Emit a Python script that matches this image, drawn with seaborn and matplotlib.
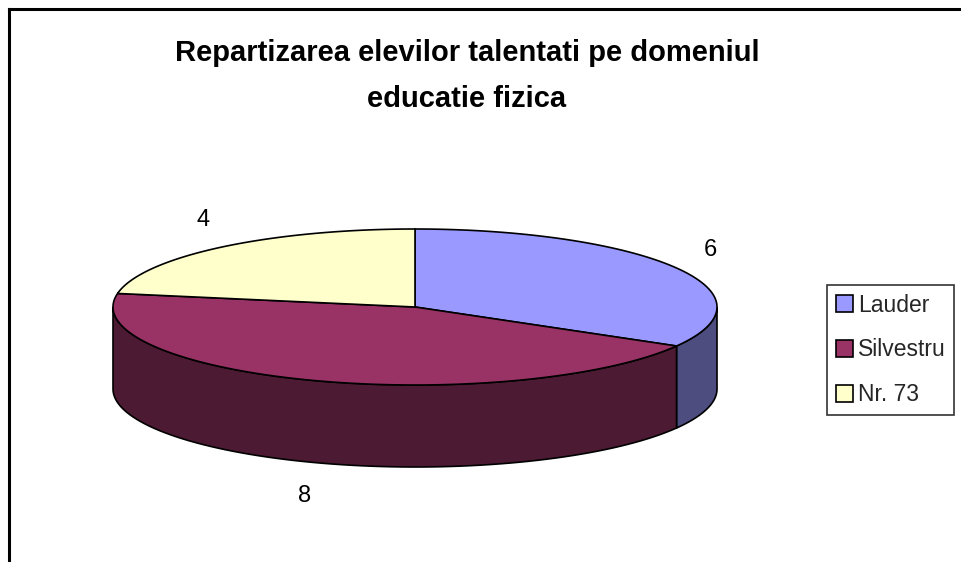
import numpy as np
import pandas as pd
import seaborn as sns
import matplotlib.pyplot as plt
from matplotlib.patches import Polygon, Patch

# data
scoli = ['Lauder', 'Silvestru', 'Nr. 73']
elevi = [6, 8, 4]
culori_sus = ['#9999FF', '#993366', '#FFFFCC']
culori_lat = ['#4D4D80', '#4C1A33', '#80805F']

sns.set_theme(style='white')
plt.rcParams['font.family'] = ['Liberation Sans', 'DejaVu Sans']

df = pd.DataFrame({'scoala': scoli, 'elevi': elevi})

fig = plt.figure(figsize=(9.62, 5.62), dpi=100)
ax = fig.add_axes([0, 0, 1, 1])
ax.set_xlim(0, 962)
ax.set_ylim(562, 0)
ax.axis('off')

# pie geometry (pixels)
cx, cy = 415, 307
a, b = 302, 78
depth = 82


def pt(theta_deg, dy=0.0):
    t = np.radians(theta_deg)
    return cx + a * np.cos(t), cy - b * np.sin(t) + dy


# angles: start at top, clockwise
frac = df['elevi'] / df['elevi'].sum()
ends = 90 - 360 * frac.cumsum()
starts = ends + 360 * frac

# side faces (front half only)
for i, (s, e) in enumerate(zip(starts, ends)):
    for shift in (0, -360):
        l2, h2 = e + shift, s + shift
        fl, fh = max(l2, -180), min(h2, 0)
        if fh > fl:
            th = np.linspace(fh, fl, 80)
            top = [pt(t) for t in th]
            bot = [pt(t, depth) for t in th[::-1]]
            ax.add_patch(Polygon(top + bot, closed=True, facecolor=culori_lat[i],
                                 edgecolor='black', lw=1.2, zorder=2))

# top faces
for i, (s, e) in enumerate(zip(starts, ends)):
    th = np.linspace(s, e, 150)
    verts = [(cx, cy)] + [pt(t) for t in th]
    ax.add_patch(Polygon(verts, closed=True, facecolor=culori_sus[i],
                         edgecolor='black', lw=1.2, zorder=3))

# value labels
for i, (s, e) in enumerate(zip(starts, ends)):
    m = (s + e) / 2
    x, y = pt(m, depth if np.sin(np.radians(m)) < 0 else 0)
    x += 34 * np.cos(np.radians(m)) + 4
    y -= 36 * np.sin(np.radians(m))
    ax.text(x, y, str(df['elevi'][i]), fontsize=17, ha='center', va='center',
            color='black', zorder=4)

# title
ax.text(467, 76, 'Repartizarea elevilor talentati pe domeniul\neducatie fizica',
        fontsize=21, fontweight='bold', ha='center', va='center',
        linespacing=1.85, color='black')

# chart area border (left and top visible)
ax.plot([9, 9], [562, 9], color='black', lw=2.2, zorder=5, solid_capstyle='projecting')
ax.plot([9, 962], [9, 9], color='black', lw=2.2, zorder=5, solid_capstyle='projecting')

# legend
handles = [Patch(facecolor=c, edgecolor='black', lw=1.2) for c in culori_sus]
leg = ax.legend(handles, scoli, loc='upper left',
                bbox_to_anchor=(827 / 962, 1 - 285 / 562),
                fontsize=16.5, frameon=True, fancybox=False, edgecolor='black',
                handlelength=0.75, handleheight=0.75, handletextpad=0.22,
                labelspacing=0.95, borderpad=0.38, borderaxespad=0)
leg.get_frame().set_linewidth(1.2)

fig.savefig('out.png', dpi=100, facecolor='white')
